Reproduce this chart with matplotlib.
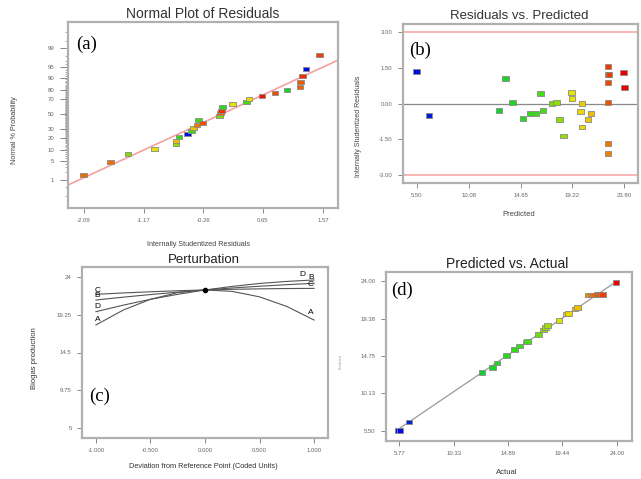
import matplotlib
matplotlib.use("Agg")
import matplotlib.pyplot as plt
from matplotlib.colors import LinearSegmentedColormap, Normalize
from statistics import NormalDist

# ---- (a) normal plot of residuals ----
a_resid = [-2.09, -1.68, -1.41, -1.01, -0.68, -0.68, -0.63, -0.50, -0.44, -0.41,
           -0.36, -0.33, -0.27, -0.01, 0.00, 0.02, 0.03, 0.19, 0.40, 0.44,
           0.64, 0.84, 1.02, 1.22, 1.23, 1.26, 1.31, 1.52]
a_prob = [1.6, 4.5, 7.9, 10.9, 14.5, 17.1, 20.9, 24.2, 27.4, 31.2,
          34.8, 41.7, 37.4, 47.2, 51.6, 54.4, 59.9, 63.7, 66.3, 70.2,
          73.6, 77.0, 80.2, 82.9, 87.1, 91.0, 94.3, 98.1]
a_resp = [22.0, 22.0, 17.6, 19.3, 17.8, 20.8, 15.5, 6.0, 16.0, 20.5,
          21.8, 16.0, 22.5, 17.5, 22.0, 23.0, 15.0, 19.5, 16.3, 19.6,
          23.5, 22.6, 13.5, 22.2, 22.3, 23.2, 5.8, 22.8]
a_line_x = [-2.33, 1.80]
a_line_p = [0.62, 97.1]
a_xticks = [-2.09, -1.17, -0.26, 0.65, 1.57]
a_yticks = [1, 5, 10, 20, 30, 50, 70, 80, 90, 95, 99]

# ---- (b) residuals vs predicted ----
b_pred = [5.47, 6.58, 12.77, 13.33, 13.93, 14.87, 15.55, 15.97, 16.41, 16.64,
          17.44, 17.85, 18.11, 18.47, 19.18, 19.21, 19.97, 20.10, 20.10, 20.63,
          20.89, 22.40, 22.40, 22.48, 22.40, 22.40, 22.40, 22.40, 23.77, 23.84]
b_resid = [1.34, -0.49, -0.28, 1.04, 0.05, -0.63, -0.43, -0.42, 0.41, -0.28,
           -0.01, 0.05, -0.66, -1.37, 0.45, 0.20, -0.34, 0.00, -0.99, -0.66,
           -0.41, 1.54, 1.23, 1.23, 0.89, 0.05, -1.68, -2.10, 1.29, 0.66]
b_xticks = [5.50, 10.08, 14.65, 19.22, 23.80]
b_yticks = [-3.00, -1.50, 0.00, 1.50, 3.00]

# ---- (c) perturbation ----
dev = [-1.0, -0.75, -0.5, -0.25, 0.0, 0.25, 0.5, 0.75, 1.0]
pert = {
    "A": [17.98, 19.86, 21.22, 22.07, 22.40, 22.22, 21.53, 20.32, 18.60],
    "B": [21.13, 21.49, 21.82, 22.12, 22.40, 22.65, 22.87, 23.07, 23.24],
    "C": [21.85, 22.02, 22.17, 22.30, 22.40, 22.48, 22.54, 22.58, 22.60],
    "D": [19.66, 20.48, 21.22, 21.85, 22.40, 22.85, 23.22, 23.48, 23.66],
}
c_xticks = [-1.0, -0.5, 0.0, 0.5, 1.0]
c_yticks = [5, 9.75, 14.5, 19.25, 24]

# ---- (d) predicted vs actual ----
d_actual = [5.70, 5.84, 6.58, 12.72, 13.57, 13.96, 14.74, 15.44, 15.83, 16.40,
            16.52, 17.42, 17.84, 18.04, 18.20, 19.15, 19.79, 19.95, 20.49, 20.69,
            21.60, 21.90, 22.10, 22.40, 22.60, 22.80, 23.93]
d_pred = [5.50, 5.50, 6.58, 12.73, 13.30, 13.88, 14.79, 15.58, 15.99, 16.48,
          16.55, 17.44, 17.97, 18.30, 18.50, 19.12, 19.95, 20.05, 20.57, 20.73,
          22.32, 22.32, 22.32, 22.35, 22.38, 22.38, 23.83]
d_xticks = [5.77, 10.33, 14.89, 19.44, 24.00]
d_yticks = [5.50, 10.13, 14.75, 19.38, 24.00]

W, H = 641, 479
cmap = LinearSegmentedColormap.from_list("de", [
    (0.0, "#0000ee"), (0.33, "#00cc33"), (0.6, "#44dd11"), (0.68, "#99dd00"),
    (0.75, "#e6e600"), (0.83, "#eebb00"), (0.9, "#ee6600"), (1.0, "#ee0000")])
norm = Normalize(5.5, 24.0)
nd = NormalDist()
rect = [(-1, -0.72), (1, -0.72), (1, 0.72), (-1, 0.72), (-1, -0.72)]

fig = plt.figure(figsize=(W / 100, H / 100), dpi=100)
plt.rcParams["font.family"] = ["Liberation Sans", "DejaVu Sans"]


def box(x0, y0, x1, y1):
    return fig.add_axes([x0 / W, 1 - y1 / H, (x1 - x0) / W, (y1 - y0) / H])


def style(ax):
    for s in ax.spines.values():
        s.set_color("#b0b0b0")
        s.set_linewidth(1.6)
    ax.tick_params(labelsize=4.3, color="#888888", labelcolor="#666666",
                   length=3.5, width=0.7, pad=4)


def ftext(x, y, s, **kw):
    fig.text(x / W, 1 - y / H, s, ha="center", va="center", **kw)


def squares(ax, x, y, vals):
    ax.scatter(x, y, c=[cmap(norm(v)) for v in vals], marker=rect, s=22,
               edgecolors="#8a8a8a", linewidths=0.6, zorder=3)


# (a)
ax = box(68, 22, 338, 208)
style(ax)
z = [nd.inv_cdf(p / 100) for p in a_prob]
ax.plot(a_line_x, [nd.inv_cdf(p / 100) for p in a_line_p], color="#f4a0a0", lw=1.2, zorder=2)
squares(ax, a_resid, z, a_resp)
ax.set_xlim(-2.33, 1.80)
ax.set_ylim(-3.31, 3.24)
ax.set_xticks(a_xticks, [f"{v:.2f}" for v in a_xticks])
ax.set_yticks([nd.inv_cdf(p / 100) for p in a_yticks], [str(p) for p in a_yticks])
minor = [0.2, 0.5] + list(range(2, 99)) + [99.5, 99.8]
ax.set_yticks([nd.inv_cdf(p / 100) for p in minor], minor=True)
ax.tick_params(axis="y", which="minor", length=2.5, width=0.5, color="#888888")
ax.tick_params(axis="y", which="major", length=6)
ftext(203, 14, "Normal Plot of Residuals", fontsize=10, color="#333333")
ftext(198, 244, "Internally Studentized Residuals", fontsize=5.2, color="#444444")
ftext(15, 130, "Normal % Probability", fontsize=5.2, color="#444444", rotation=90)
ftext(87, 44, "(a)", fontsize=13.5, family="Liberation Serif")

# (b)
ax = box(403, 24, 638, 183)
style(ax)
ax.axhline(3.0, color="#f7a8a8", lw=1.2)
ax.axhline(-3.0, color="#f7a8a8", lw=1.2)
ax.axhline(0.0, color="#888888", lw=0.9)
squares(ax, b_pred, b_resid, [p + 0.33 * r for p, r in zip(b_pred, b_resid)])
ax.set_xlim(4.26, 25.04)
ax.set_ylim(-3.34, 3.34)
ax.set_xticks(b_xticks, [f"{v:.2f}" for v in b_xticks])
ax.set_yticks(b_yticks, [f"{v:.2f}" for v in b_yticks])
ftext(519, 16, "Residuals vs. Predicted", fontsize=9.5, color="#333333")
ftext(519, 215, "Predicted", fontsize=5.5, color="#444444")
ftext(358, 126, "Internally Studentized Residuals", fontsize=5.0, color="#444444", rotation=90)
ftext(420, 50, "(b)", fontsize=13.5, family="Liberation Serif")

# (c)
ax = box(82, 267, 328, 438)
style(ax)
for k, vals in pert.items():
    ax.plot(dev, vals, color="#555555", lw=0.8)
ax.plot([0], [pert["A"][4]], "o", color="black", ms=3)
left_off = {"A": 4, "B": 3, "C": 3, "D": 4}
for k, vals in pert.items():
    ax.annotate(k, (dev[0], vals[0]), xytext=(1, left_off[k]), textcoords="offset points",
                ha="center", va="center", fontsize=6)
ax.annotate("D", (0.89, 23.62), xytext=(0, 4), textcoords="offset points",
            ha="center", va="center", fontsize=6)
for k, yy, dy in [("B", 23.22, 4.5), ("C", 22.6, 3), ("A", 18.8, 4)]:
    ax.annotate(k, (0.97, yy), xytext=(0, dy), textcoords="offset points",
                ha="center", va="center", fontsize=6)
ax.set_xlim(-1.128, 1.128)
ax.set_ylim(3.7, 25.3)
ax.set_xticks(c_xticks, [f"{v:.3f}" for v in c_xticks])
ax.set_yticks(c_yticks, ["5", "9.75", "14.5", "19.25", "24"])
ftext(204, 260, "Perturbation", fontsize=9.5, color="#222222")
ftext(203, 467, "Deviation from Reference Point (Coded Units)", fontsize=5.3, color="#333333")
ftext(34, 358, "Biogas production", fontsize=5.5, color="#333333", rotation=90)
ftext(100, 396, "(c)", fontsize=13.5, family="Liberation Serif")

# (d)
ax = box(386, 272, 632, 441)
style(ax)
lo, hi = min(d_pred) + 0.1, max(d_actual) + 0.07
ax.plot([lo, hi], [lo, hi], color="#999999", lw=0.9, zorder=2)
squares(ax, d_actual, d_pred, d_actual)
ax.set_xlim(4.65, 25.28)
ax.set_ylim(4.22, 25.15)
ax.set_xticks(d_xticks, [f"{v:.2f}" for v in d_xticks])
ax.set_yticks(d_yticks, [f"{v:.2f}" for v in d_yticks])
ftext(507, 264, "Predicted vs. Actual", fontsize=10, color="#222222")
ftext(507, 472, "Actual", fontsize=5.5, color="#333333")
ftext(341, 362, "Predicted", fontsize=2.5, color="#aa9988", rotation=90)
ftext(402, 290, "(d)", fontsize=13.5, family="Liberation Serif")

fig.savefig("out.png", dpi=100)
